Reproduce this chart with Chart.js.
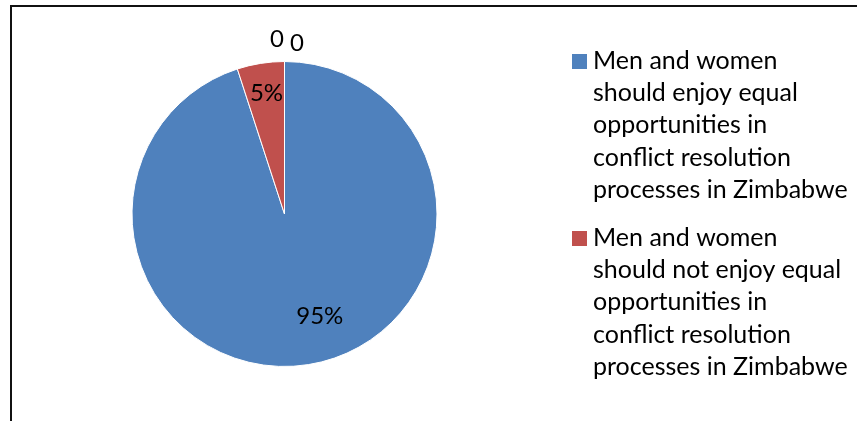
<!DOCTYPE html>
<html>
<head>
<meta charset="utf-8">
<script src="https://cdn.jsdelivr.net/npm/chart.js@4.4.1/dist/chart.umd.min.js"></script>
<style>
    html, body { margin: 0; padding: 0; background: #fff; }
    #frame {
        position: absolute; left: 10px; top: 5px; width: 900px; height: 500px;
        border-left: 2px solid #111; border-top: 2px solid #111;
    }
    #wrap { position: absolute; left: 0; top: 0; width: 857px; height: 421px; }
</style>
</head>
<body>
<div id="frame"></div>
<div id="wrap"><canvas id="chart"></canvas></div>
<script>
// categories (legend text already split the way the original wraps it)
const categories = [
    ['Men and women', 'should enjoy equal', 'opportunities in', 'conflict resolution', 'processes in Zimbabwe'],
    ['Men and women', 'should not enjoy equal', 'opportunities in', 'conflict resolution', 'processes in Zimbabwe'],
    '',
    ''
];
const shares = [95, 5, 0, 0]; // percent of respondents
const sliceColors = ['#4F81BD', '#C0504D', '#9BBB59', '#8064A2'];

const FONT = 'Lato, "Open Sans", sans-serif';

function formatLabel(value) {
    return value === 0 ? '0' : `${value}%`;
}

// data labels on/around each slice
const sliceLabels = {
    id: 'sliceLabels',
    afterDatasetsDraw(chart, args, opts) {
        const ctx = chart.ctx;
        const meta = chart.getDatasetMeta(0);
        ctx.save();
        ctx.font = `24px ${FONT}`;
        ctx.fillStyle = '#000';
        ctx.textAlign = 'center';
        ctx.textBaseline = 'middle';
        meta.data.forEach((arc, i) => {
            const p = arc.getProps(['x', 'y', 'startAngle', 'endAngle', 'outerRadius'], true);
            const place = opts.placements[i];
            const mid = (p.startAngle + p.endAngle) / 2 + place.dAngle * Math.PI / 180;
            const r = p.outerRadius * place.f;
            ctx.fillText(formatLabel(shares[i]), p.x + Math.cos(mid) * r, p.y + Math.sin(mid) * r);
        });
        ctx.restore();
    }
};

// legend on the right with wrapped lines
const sideLegend = {
    id: 'sideLegend',
    afterDraw(chart, args, opts) {
        const ctx = chart.ctx;
        ctx.save();
        ctx.font = `25px ${FONT}`;
        ctx.textBaseline = 'alphabetic';
        ctx.textAlign = 'left';
        let baseline = opts.top;
        categories.forEach((lines, i) => {
            if (!lines || !lines.length) return;
            ctx.fillStyle = sliceColors[i];
            ctx.fillRect(opts.left, baseline - 15, 15, 15);
            ctx.fillStyle = '#000';
            lines.forEach((line, j) => {
                ctx.fillText(line, opts.left + 21, baseline + j * opts.lineHeight);
            });
            baseline += lines.length * opts.lineHeight + opts.gap;
        });
        ctx.restore();
    }
};

const ctx = document.getElementById('chart').getContext('2d');
new Chart(ctx, {
    type: 'pie',
    data: {
        labels: categories,
        datasets: [{
            data: shares,
            backgroundColor: sliceColors,
            borderColor: '#ffffff',
            borderWidth: 1,
            hoverOffset: 0
        }]
    },
    options: {
        responsive: true,
        maintainAspectRatio: false,
        animation: false,
        layout: {
            padding: { top: 61, bottom: 54, left: 131, right: 419 }
        },
        plugins: {
            legend: { display: false },
            tooltip: { enabled: false },
            sliceLabels: {
                placements: [
                    { dAngle: -10, f: 0.71 },
                    { dAngle: 0.5, f: 0.80 },
                    { dAngle: -2.5, f: 1.15 },
                    { dAngle: 4.2, f: 1.125 }
                ]
            },
            sideLegend: { left: 572, top: 69, lineHeight: 32.2, gap: 16 }
        }
    },
    plugins: [sliceLabels, sideLegend]
});
</script>
</body>
</html>
